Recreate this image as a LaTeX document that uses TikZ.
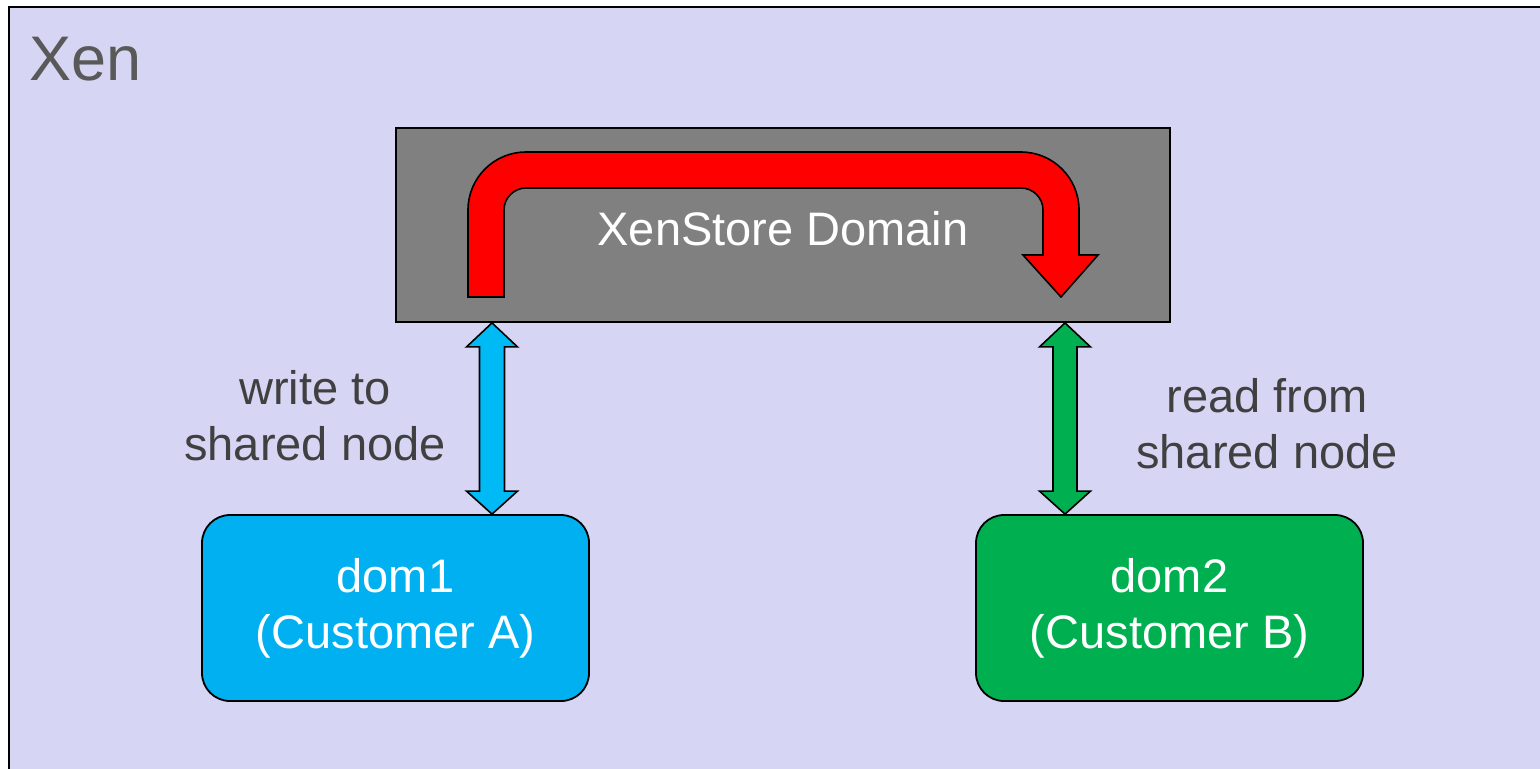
\documentclass[tikz,border=0pt]{standalone}
\usepackage{fontspec}
\setmainfont{Liberation Sans}
\usetikzlibrary{calc}
\definecolor{lav}{RGB}{214,214,244}
\definecolor{xsgray}{RGB}{128,128,128}
\definecolor{dblue}{RGB}{0,176,240}
\definecolor{ablue}{RGB}{0,186,246}
\definecolor{dgreen}{RGB}{0,176,80}
\definecolor{txtgray}{RGB}{64,64,64}
\definecolor{xengray}{RGB}{89,89,89}
\tikzset{
  box/.style={draw=black, line width=0.9pt, inner sep=0pt, text=white,
    font=\fontsize{23.5pt}{28pt}\selectfont, align=center},
  lbl/.style={text=txtgray, font=\fontsize{23.5pt}{28pt}\selectfont, align=center, inner sep=0pt},
  shapearrow/.style={draw=black, line width=0.8pt, line join=miter},
}
\begin{document}
\begin{tikzpicture}[x=0.5pt, y=-0.5pt]
\useasboundingbox (0,0) rectangle (1540,768);
\fill[white] (0,0) rectangle (1540,768);
\begin{scope}
  \clip (0,0) rectangle (1540,768);
  \draw[fill=lav, line width=1pt] (9,7) rectangle (1600,820);
\end{scope}
\node[anchor=base west, inner sep=0pt, text=xengray, font=\fontsize{31.5pt}{36pt}\selectfont] (xen) at (29,80) {Xen};

% XenStore domain box
\node[box, fill=xsgray, minimum width=387pt, minimum height=97pt] (xs) at (783,225) {};
% red U-turn arrow
\draw[shapearrow, fill=red]
  (468,297) -- (468,210) arc[start angle=180, end angle=270, radius=58]
  -- (1021,152) arc[start angle=270, end angle=360, radius=58]
  -- (1079,255) -- (1098,255) -- (1061,297) -- (1023,255) -- (1043,255)
  -- (1043,210) arc[start angle=0, end angle=-90, radius=22]
  -- (526,188) arc[start angle=270, end angle=180, radius=22]
  -- (504,297) -- cycle;
\node[text=white, font=\fontsize{23.5pt}{28pt}\selectfont, inner sep=0pt] (xst) at (783,229) {XenStore Domain};

% customer domains
\node[box, fill=dblue, rounded corners=14pt, minimum width=193.5pt, minimum height=93pt] (d1) at (395.5,608) {dom1\\(Customer A)};
\node[box, fill=dgreen, rounded corners=14pt, minimum width=193.5pt, minimum height=93pt] (d2) at (1169.5,608) {dom2\\(Customer B)};

% double arrows
\coordinate (a1) at (xs.south -| 492,0);
\coordinate (b1) at (d1.north -| 492,0);
\coordinate (a2) at (xs.south -| 1065,0);
\coordinate (b2) at (d2.north -| 1065,0);
\draw[shapearrow, fill=ablue]
  (a1) -- ($(a1)+(25.5,24)$) -- ($(a1)+(12.5,24)$) -- ($(b1)+(12.5,-23)$) -- ($(b1)+(25.5,-23)$)
  -- (b1) -- ($(b1)+(-25.5,-23)$) -- ($(b1)+(-12.5,-23)$) -- ($(a1)+(-12.5,24)$) -- ($(a1)+(-25.5,24)$) -- cycle;
\draw[shapearrow, fill=dgreen]
  (a2) -- ($(a2)+(25.5,24)$) -- ($(a2)+(12,24)$) -- ($(b2)+(12,-23)$) -- ($(b2)+(25.5,-23)$)
  -- (b2) -- ($(b2)+(-25.5,-23)$) -- ($(b2)+(-12,-23)$) -- ($(a2)+(-12,24)$) -- ($(a2)+(-25.5,24)$) -- cycle;

% labels
\node[lbl] (l1) at (315,416) {write to\\shared node};
\node[lbl] (l2) at (1267,424) {read from\\shared node};
\end{tikzpicture}
\end{document}
